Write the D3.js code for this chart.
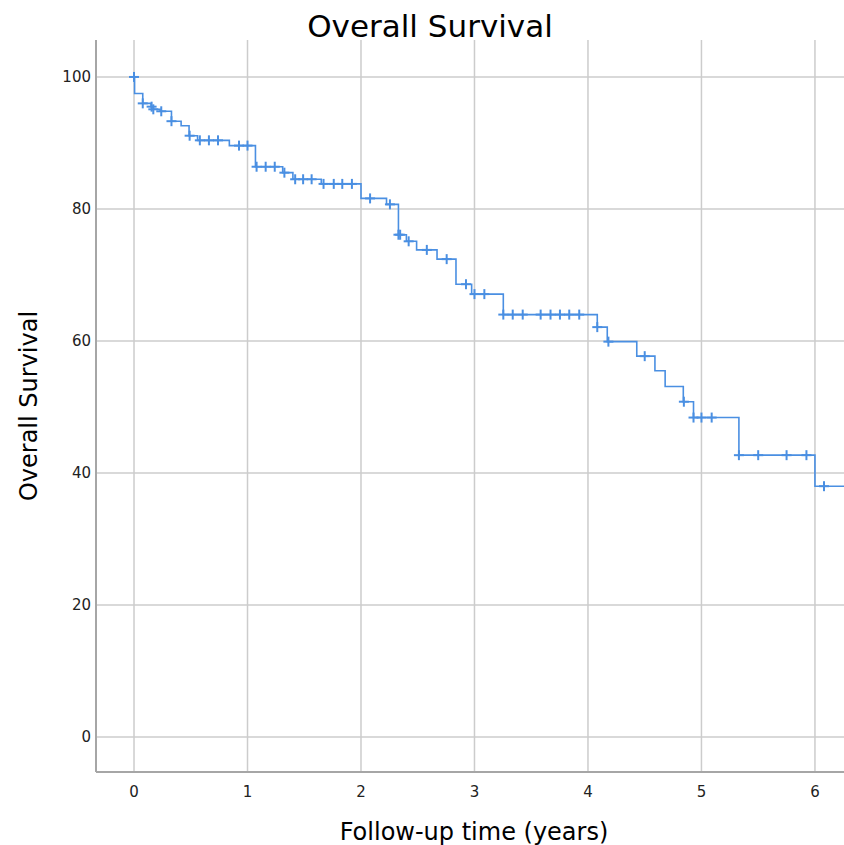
<!DOCTYPE html>
<html>
<head>
<meta charset="utf-8">
<script src="https://cdn.jsdelivr.net/npm/d3@7"></script>
<style>
  body { margin: 0; background: #fff; }
  text { font-family: "DejaVu Sans", sans-serif; }
</style>
</head>
<body>
<svg id="chart" width="844" height="845"></svg>
<script>
// Kaplan-Meier steps: time of each drop (years) and survival (%) after it
var eventTimes = [0.005, 0.077, 0.15, 0.17, 0.23, 0.33, 0.415, 0.485, 0.56, 0.84,
                  1.07, 1.31, 1.40, 1.65, 2.0, 2.225, 2.33, 2.40, 2.49, 2.67,
                  2.837, 2.975, 3.254, 4.082, 4.17, 4.43, 4.59, 4.68, 4.84, 4.93,
                  5.33, 6.0];
var survivalAfter = [97.5, 96.0, 95.5, 95.1, 94.8, 93.3, 92.6, 91.1, 90.4, 89.6,
                     86.4, 85.5, 84.5, 83.8, 81.6, 80.7, 76.1, 75.1, 73.8, 72.4,
                     68.6, 67.1, 64.0, 62.1, 59.9, 57.7, 55.5, 53.1, 50.8, 48.4,
                     42.7, 38.0];
// censored observations (years)
var censorTimes = [0, 0.077, 0.155, 0.17, 0.24, 0.33, 0.49, 0.58, 0.66, 0.74,
                   0.925, 1.0, 1.08, 1.16, 1.24, 1.325, 1.42, 1.49, 1.565, 1.67,
                   1.76, 1.835, 1.92, 2.08, 2.255, 2.33, 2.345, 2.42, 2.58, 2.755,
                   2.925, 3.0, 3.087, 3.254, 3.337, 3.425, 3.583, 3.67, 3.753, 3.835,
                   3.923, 4.082, 4.18, 4.50, 4.845, 4.93, 5.0, 5.09, 5.33, 5.50,
                   5.75, 5.925, 6.08];
var lastTime = 6.4;
var xTicks = [0, 1, 2, 3, 4, 5, 6];
var yTicks = [0, 20, 40, 60, 80, 100];

var svg = d3.select("#chart");
var plotL = 96, plotR = 844, plotT = 40, plotB = 772;

var x = d3.scaleLinear().domain([-0.335, 6.256]).range([plotL, plotR]);
var y = d3.scaleLinear().domain([-5.3, 105.6]).range([plotB, plotT]);

function survivalAt(t) {
  var s = 100;
  for (var i = 0; i < eventTimes.length; i++) {
    if (eventTimes[i] <= t) s = survivalAfter[i];
  }
  return s;
}

svg.append("clipPath").attr("id", "clip")
  .append("rect").attr("x", plotL).attr("y", plotT - 6)
  .attr("width", plotR - plotL).attr("height", plotB - plotT + 6);

// grid
var grid = svg.append("g");
grid.selectAll(".hg").data(yTicks).enter().append("line")
  .attr("x1", plotL).attr("x2", plotR)
  .attr("y1", d => y(d)).attr("y2", d => y(d))
  .attr("stroke", "#cccccc").attr("stroke-width", 1.5);
grid.selectAll(".vg").data(xTicks).enter().append("line")
  .attr("x1", d => x(d)).attr("x2", d => x(d))
  .attr("y1", plotT).attr("y2", plotB)
  .attr("stroke", "#cccccc").attr("stroke-width", 1.5);

// axis lines
svg.append("line").attr("x1", plotL).attr("x2", plotL).attr("y1", plotT).attr("y2", plotB)
  .attr("stroke", "#a6a6a6").attr("stroke-width", 2);
svg.append("line").attr("x1", plotL).attr("x2", plotR).attr("y1", plotB).attr("y2", plotB)
  .attr("stroke", "#a6a6a6").attr("stroke-width", 2);

// tick labels
svg.selectAll(".yl").data(yTicks).enter().append("text")
  .attr("x", 91).attr("y", d => y(d)).attr("dy", "0.36em")
  .attr("text-anchor", "end").attr("font-size", 15).attr("fill", "#222")
  .text(d => d);
svg.selectAll(".xl").data(xTicks).enter().append("text")
  .attr("x", d => x(d)).attr("y", 797)
  .attr("text-anchor", "middle").attr("font-size", 15).attr("fill", "#222")
  .text(d => d);

// survival curve
var pts = [[0, 100]];
eventTimes.forEach(function(t, i) { pts.push([t, survivalAfter[i]]); });
pts.push([lastTime, survivalAfter[survivalAfter.length - 1]]);

var line = d3.line().x(d => x(d[0])).y(d => y(d[1])).curve(d3.curveStepAfter);
var plot = svg.append("g").attr("clip-path", "url(#clip)");
plot.append("path").datum(pts)
  .attr("d", line).attr("fill", "none")
  .attr("stroke", "#4a8fe2").attr("stroke-width", 1.6);

// censor marks
var marks = plot.selectAll(".c").data(censorTimes).enter().append("g")
  .attr("transform", d => "translate(" + x(d) + "," + y(survivalAt(d)) + ")");
marks.append("line").attr("x1", -5).attr("x2", 5).attr("y1", 0).attr("y2", 0)
  .attr("stroke", "#4a8fe2").attr("stroke-width", 2);
marks.append("line").attr("x1", 0).attr("x2", 0).attr("y1", -5).attr("y2", 5)
  .attr("stroke", "#4a8fe2").attr("stroke-width", 2);

// titles
svg.append("text").attr("x", 430).attr("y", 37).attr("text-anchor", "middle")
  .attr("font-size", 31).attr("fill", "#000").text("Overall Survival");
svg.append("text").attr("transform", "translate(37,406) rotate(-90)")
  .attr("text-anchor", "middle").attr("font-size", 24).attr("fill", "#000")
  .text("Overall Survival");
svg.append("text").attr("x", 474).attr("y", 840).attr("text-anchor", "middle")
  .attr("font-size", 24).attr("fill", "#000").text("Follow-up time (years)");
</script>
</body>
</html>
